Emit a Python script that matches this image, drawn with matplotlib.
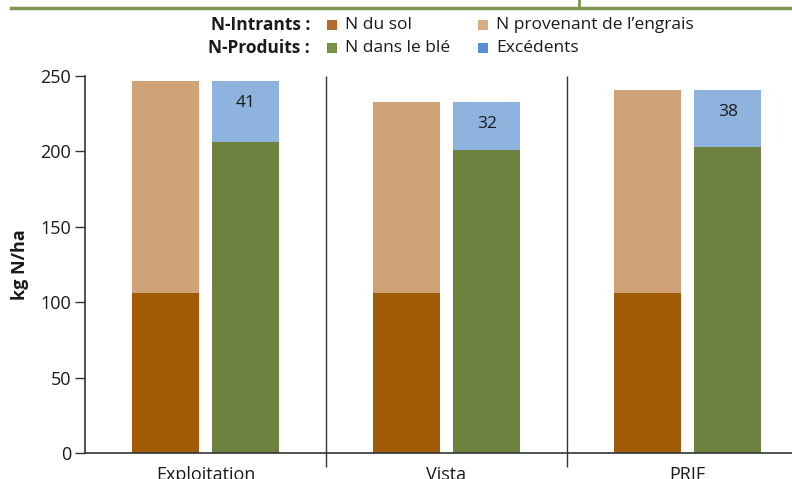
import matplotlib.pyplot as plt
from matplotlib.patches import Rectangle
from matplotlib.lines import Line2D

# nitrogen balance per system (kg N/ha)
systems = ['Exploitation', 'Vista', 'PRIF']
n_sol = [106, 106, 106]
n_engrais = [141, 127, 135]
n_ble = [206, 201, 203]
excedents = [41, 32, 38]

plt.rcParams['font.family'] = ['Liberation Sans Narrow', 'Open Sans', 'DejaVu Sans']

c_sol = '#a15a06'
c_engrais = '#cfa277'
c_ble = '#6e8240'
c_exc = '#8eb3de'
c_text = '#1a1a1a'
c_axis = '#333333'

fig = plt.figure(figsize=(7.92, 4.79), dpi=100)
ax = fig.add_axes([85 / 792, 26 / 479, 707 / 792, 377 / 479])

x = range(len(systems))
w = 0.278
off = 0.167
left = [i - off for i in x]
right = [i + off for i in x]

ax.bar(left, n_sol, w, color=c_sol)
ax.bar(left, n_engrais, w, bottom=n_sol, color=c_engrais)
ax.bar(right, n_ble, w, color=c_ble)
ax.bar(right, excedents, w, bottom=n_ble, color=c_exc)

for xi, b, e in zip(right, n_ble, excedents):
    ax.text(xi, b + e - 15, str(e), ha='center', va='center',
            fontsize=12.5, color=c_text)

# group separators reaching below the axis
ax.vlines([0.5, 1.5], -9, 250, color=c_axis, lw=1, clip_on=False)

ax.set_xlim(-0.5, -0.5 + 707 / 241)
ax.set_ylim(0, 250)
ax.set_yticks([0, 50, 100, 150, 200, 250])
ax.set_xticks(list(x))
ax.set_xticklabels(systems, fontsize=13, color=c_text)
ax.tick_params(axis='x', length=0, pad=9)
ax.tick_params(axis='y', length=7, width=1, color=c_axis, labelsize=13,
               labelcolor=c_text, pad=3)
for s in ['top', 'right']:
    ax.spines[s].set_visible(False)
for s in ['left', 'bottom']:
    ax.spines[s].set_color(c_axis)
    ax.spines[s].set_linewidth(1.2)
ax.set_ylabel('kg N/ha', fontsize=13, fontweight='bold', color=c_text,
              labelpad=8)

# header rule
fig.add_artist(Line2D([11 / 792, 1], [1 - 8 / 479] * 2, color='#7d9550',
                      lw=2.5))
fig.add_artist(Line2D([579 / 792] * 2, [1 - 8 / 479, 1], color='#7d9550',
                      lw=2))

# legend drawn by hand in two labelled rows
rows = [
    ('N-Intrants :', 25, [('N du sol', '#b5692e', 327),
                          ('N provenant de l\u2019engrais', '#d9ab80', 478)]),
    ('N-Produits :', 48, [('N dans le blé', '#77904a', 327),
                          ('Excédents', '#5b8fcf', 478)]),
]
for title, yp, items in rows:
    yf = 1 - yp / 479
    fig.text(310 / 792, yf, title, ha='right', va='center', fontsize=12.5,
             fontweight='bold', color=c_text)
    for label, col, xp in items:
        fig.add_artist(Rectangle((xp / 792, yf - 5 / 479), 10 / 792,
                                 10 / 479, color=col, lw=0))
        fig.text((xp + 18) / 792, yf, label, ha='left', va='center',
                 fontsize=12.5, color=c_text)

fig.savefig('out.png', dpi=100)
